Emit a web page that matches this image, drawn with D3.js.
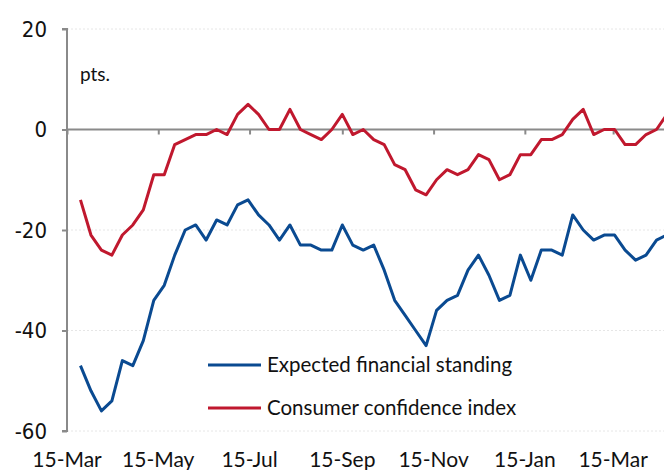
<!DOCTYPE html>
<html>
<head>
<meta charset="utf-8">
<script src="https://cdn.jsdelivr.net/npm/d3@7"></script>
<style>
body { margin: 0; background: #fff; }
</style>
</head>
<body>
<div id="chart"></div>
<script>
// weekly survey dates
var dates = ["2022-03-24","2022-03-31","2022-04-07","2022-04-14","2022-04-21","2022-04-28",
  "2022-05-05","2022-05-12","2022-05-19","2022-05-26","2022-06-02","2022-06-09","2022-06-16",
  "2022-06-23","2022-06-30","2022-07-07","2022-07-14","2022-07-21","2022-07-28","2022-08-04",
  "2022-08-11","2022-08-18","2022-08-25","2022-09-01","2022-09-08","2022-09-15","2022-09-22",
  "2022-09-29","2022-10-06","2022-10-13","2022-10-20","2022-10-27","2022-11-03","2022-11-10",
  "2022-11-17","2022-11-24","2022-12-01","2022-12-08","2022-12-15","2022-12-22","2022-12-29",
  "2023-01-05","2023-01-12","2023-01-19","2023-01-26","2023-02-02","2023-02-09","2023-02-16",
  "2023-02-23","2023-03-02","2023-03-09","2023-03-16","2023-03-23","2023-03-30","2023-04-06",
  "2023-04-13","2023-04-20"];

var expected_standing = [-47,-52,-56,-54,-46,-47,-42,-34,-31,-25,-20,-19,-22,-18,-19,-15,-14,-17,
  -19,-22,-19,-23,-23,-24,-24,-19,-23,-24,-23,-28,-34,-37,-40,-43,-36,-34,-33,-28,-25,-29,-34,
  -33,-25,-30,-24,-24,-25,-17,-20,-22,-21,-21,-24,-26,-25,-22,-21];

var consumer_confidence = [-14,-21,-24,-25,-21,-19,-16,-9,-9,-3,-2,-1,-1,0,-1,3,5,3,0,0,4,0,-1,
  -2,0,3,-1,0,-2,-3,-7,-8,-12,-13,-10,-8,-9,-8,-5,-6,-10,-9,-5,-5,-2,-2,-1,2,4,-1,0,0,-3,-3,-1,0,3];

var y_ticks = [20, 0, -20, -40, -60];
var x_ticks = ["2022-03-15","2022-05-15","2022-07-15","2022-09-15","2022-11-15","2023-01-15","2023-03-15"];
var legend_labels = ["Expected financial standing", "Consumer confidence index"];
var colors = ["#0a4a91", "#c0182e"];

var width = 664, height = 470;
var parse = d3.timeParse("%Y-%m-%d");

var svg = d3.select("#chart").append("svg")
    .attr("width", width)
    .attr("height", height);

// scales
var xScale = d3.scaleTime()
    .domain([parse("2022-03-15"), parse("2023-04-18")])
    .range([67, 664]);

var yScale = d3.scaleLinear()
    .domain([-60, 20])
    .range([431, 29]);

// gridlines
svg.append("g")
    .selectAll("line")
    .data(y_ticks.filter(function(d) { return d != 0; }))
  .enter().append("line")
    .attr("x1", 67).attr("x2", width)
    .attr("y1", function(d) { return yScale(d); })
    .attr("y2", function(d) { return yScale(d); })
    .attr("stroke", "#e6e6e6")
    .attr("stroke-dasharray", "2,2")
    .attr("stroke-width", 1);

// y axis (plain hyphen for negatives, like the original)
var yAxis = svg.append("g")
    .attr("transform", "translate(67,0)")
    .call(d3.axisLeft(yScale).tickValues(y_ticks).tickSize(5).tickPadding(15)
      .tickFormat(function(d) { return String(d); }));
yAxis.select(".domain").attr("stroke", "#8a8a8a").attr("stroke-width", 2)
    .attr("d", "M-5," + yScale(20) + "H0V" + yScale(-60) + "H-5");
yAxis.selectAll(".tick line").attr("stroke", "#8a8a8a").attr("stroke-width", 2);
yAxis.selectAll(".tick text")
    .attr("font-family", "'Liberation Sans Narrow', 'DejaVu Sans Condensed', sans-serif")
    .attr("font-size", 22)
    .attr("fill", "#111");

// x axis sits on the zero line
var xAxis = svg.append("g")
    .attr("transform", "translate(0," + yScale(0) + ")")
    .call(d3.axisBottom(xScale).tickValues(x_ticks.map(parse)).tickSize(5).tickFormat(""));
xAxis.select(".domain").attr("stroke", "#8a8a8a").attr("stroke-width", 2)
    .attr("d", "M67,0H" + width);
xAxis.selectAll(".tick line").attr("stroke", "#8a8a8a").attr("stroke-width", 2);

// month labels at bottom
svg.append("g")
    .selectAll("text")
    .data(x_ticks)
  .enter().append("text")
    .attr("x", function(d) { return xScale(parse(d)); })
    .attr("y", 467)
    .attr("text-anchor", "middle")
    .attr("font-family", "Lato, sans-serif")
    .attr("font-size", 21)
    .attr("fill", "#111")
    .text(function(d) { return d3.timeFormat("%d-%b")(parse(d)); });

svg.append("text")
    .attr("x", 80).attr("y", 81)
    .attr("font-family", "Lato, sans-serif")
    .attr("font-size", 19)
    .attr("fill", "#111")
    .text("pts.");

// lines
var line = d3.line()
    .x(function(d, i) { return xScale(parse(dates[i])); })
    .y(function(d) { return yScale(d); });

[expected_standing, consumer_confidence].forEach(function(series, k) {
  svg.append("path")
      .datum(series)
      .attr("fill", "none")
      .attr("stroke", colors[k])
      .attr("stroke-width", 3)
      .attr("stroke-linejoin", "round")
      .attr("d", line);
});

// legend
var legend = svg.append("g")
    .selectAll("g")
    .data(legend_labels)
  .enter().append("g")
    .attr("transform", function(d, i) { return "translate(208," + (365 + i * 43) + ")"; });
legend.append("line")
    .attr("x1", 0).attr("x2", 53)
    .attr("stroke", function(d, i) { return colors[i]; })
    .attr("stroke-width", 3);
legend.append("text")
    .attr("x", 59).attr("dy", "0.35em")
    .attr("font-family", "Lato, sans-serif")
    .attr("font-size", 20.5)
    .attr("fill", "#111")
    .text(function(d) { return d; });
</script>
</body>
</html>
